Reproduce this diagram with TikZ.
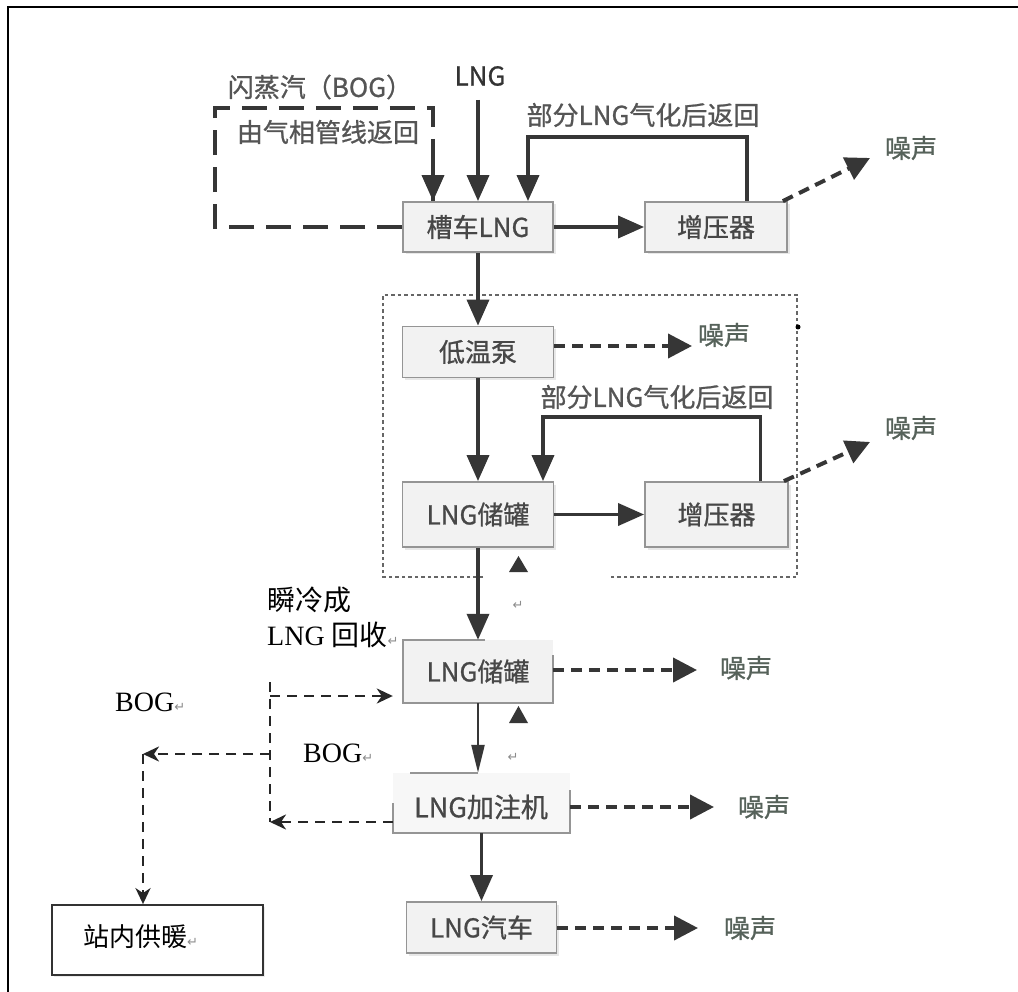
\documentclass[tikz,border=0pt]{standalone}
\usepackage{fontspec}
\setmainfont{Liberation Serif}
\newfontfamily\cjk{Noto Sans CJK SC}
\newfontfamily\cjkm{Noto Sans CJK SC}[FakeBold=0.9]
\newfontfamily\symf{DejaVu Sans}
\usetikzlibrary{arrows.meta,shadows}
\definecolor{ln}{HTML}{363636}
\definecolor{boxc}{HTML}{959595}
\definecolor{boxf}{HTML}{F2F2F2}
\definecolor{txt}{HTML}{474747}
\definecolor{lbl}{HTML}{555555}
\definecolor{noisec}{HTML}{56625A}
\definecolor{framec}{HTML}{666666}
\newcommand{\ret}{{\symf\color{black!45}\fontsize{13}{13}\selectfont ↵}}
\tikzset{
  box/.style={draw=boxc, line width=1.8pt, fill=boxf, inner sep=0pt,
    font=\cjkm\fontsize{26}{26}\selectfont, text=txt,
    drop shadow={shadow xshift=2.5pt, shadow yshift=-2.5pt, opacity=0.18}},
  openbox/.style={fill=boxf, inner sep=0pt, font=\cjkm\fontsize{26}{26}\selectfont, text=txt},
  boxline/.style={draw=boxc, line width=1.8pt},
  lab/.style={font=\cjkm\fontsize{26}{26}\selectfont, text=lbl, inner sep=0pt},
  noisetxt/.style={font=\cjkm\fontsize{26}{26}\selectfont, text=noisec, inner sep=0pt},
  sertxt/.style={font=\fontsize{28}{28}\selectfont, text=black, inner sep=0pt, anchor=west},
  main/.style={draw=ln, line width=3.6pt, -{Triangle[length=26pt,width=22pt]}},
  noise/.style={draw=ln, line width=4pt, dash pattern=on 11pt off 7pt, -{Triangle[length=24pt,width=24pt]}},
  bogtop/.style={draw=ln, line width=3.8pt, dash pattern=on 25pt off 12pt},
  bogthin/.style={draw=black!85, line width=2.6pt, dash pattern=on 10pt off 7pt},
  bogarrow/.style={bogthin, -{Stealth[length=16pt,width=15pt,inset=5pt]}},
  dotframe/.style={draw=framec, line width=2pt, dash pattern=on 3.5pt off 3pt}
}
\begin{document}
\begin{tikzpicture}[x=1pt,y=-1pt]
\useasboundingbox (0,0) rectangle (1018,992);
\fill[white] (0,0) rectangle (1018,992);
\draw[line width=2.5pt] (8,992) -- (8,7) -- (1018,7);

% dotted frame
\draw[dotframe] (483,577) -- (383,577) -- (383,295) -- (797,295) -- (797,577) -- (608,577);
\fill[black] (798,327) circle (2.5pt);

% boxes
\node[box, minimum width=150pt, minimum height=50pt] (tank) at (478,227) {槽车LNG};
\node[box, minimum width=142pt, minimum height=50pt] (boost1) at (716,227) {增压器};
\node[box, minimum width=151pt, minimum height=51pt] (pump) at (478,352) {低温泵};
\node[box, minimum width=151pt, minimum height=65pt] (store1) at (478,514.5) {LNG储罐};
\node[box, minimum width=143pt, minimum height=65pt] (boost2) at (716.5,514.5) {增压器};
\node[openbox, minimum width=150pt, minimum height=63pt] (store2) at (478,671.5) {LNG储罐};
\node[openbox, fill=boxf!60, minimum width=177pt, minimum height=60pt] (disp) at (481.5,803) {};
\node[font=\cjkm\fontsize{27}{27}\selectfont, text=txt, inner sep=0pt] (dispt) at (481,807) {LNG加注机};
\node[box, minimum width=150pt, minimum height=51pt] (car) at (481.5,927.5) {LNG汽车};
\node[draw=black!80, line width=1.8pt, fill=white, minimum width=211pt, minimum height=70pt, inner sep=0pt,
  drop shadow={shadow xshift=2pt, shadow yshift=-2pt, opacity=0.15}] (heat) at (157.5,940) {};
\node[font=\cjk\fontsize{26}{26}\selectfont, text=black, inner sep=0pt, anchor=west] (heatt) at (83,937) {站内供暖\ret};

% partial borders
\draw[boxline] ([xshift=82pt]store2.north west) -- (store2.north west) -- (store2.south west)
  -- (store2.south east) -- ([yshift=48pt]store2.south east);
\draw[boxline] ([yshift=30pt]disp.south west) -- (disp.south west) -- (disp.south east)
  -- ([yshift=43pt]disp.south east);

% top labels
\node[lab, text=black!80] (lngin) at (480,76) {LNG};
\node[lab] (bog1) at (320,87) {闪蒸汽（BOG）};
\node[lab] (bog2) at (328,132) {由气相管线返回};
\node[lab] (ret1) at (643,115) {部分LNG气化后返回};
\node[lab] (ret2) at (657,397) {部分LNG气化后返回};

% noise labels
\node[noisetxt] (n1) at (911,148) {噪声};
\node[noisetxt] (n2) at (724,335) {噪声};
\node[noisetxt] (n3) at (911,428) {噪声};
\node[noisetxt] (n4) at (746,668) {噪声};
\node[noisetxt] (n5) at (764,807) {噪声};
\node[noisetxt] (n6) at (750,928) {噪声};

\coordinate (n1tip) at (870,158);
\coordinate (n2tip) at (692,346);
\coordinate (n3tip) at (870,442);
\coordinate (n4tip) at (697,670);
\coordinate (n5tip) at (714,807);
\coordinate (n6tip) at (698,928);

% main flow
\coordinate (lngtop) at (478,100);
\draw[main] (lngtop) -- (tank.north);
\draw[main] (tank.east) -- (boost1.west);
\draw[main] ([xshift=31pt]boost1.north) -- ++(0,-64) -| ([xshift=50pt]tank.north);
\draw[main] (tank.south) -- (pump.north);
\draw[main] (pump.south) -- (store1.north);
\draw[main] (store1.east) -- (boost2.west);
\draw[main] ([xshift=44pt]boost2.north) -- ++(0,-64) -| ([xshift=65pt]store1.north);
\draw[main] (store1.south) -- (store2.north);
\draw[draw=ln, line width=2.4pt, -{Triangle[length=28pt,width=13pt]}] (store2.south) -- (store2.south |- disp.north);
\draw[boxline] (store2.south |- disp.north) -- ([xshift=17pt]disp.north west);
\draw[main] (disp.south) -- (car.north);

% BOG return on top
\draw[bogtop] (tank.west) -| (215,108) -| ([xshift=-45pt]tank.north);
\draw[main] ([xshift=-45pt]tank.north) ++(0,-40) -- ([xshift=-45pt]tank.north);

% noise arrows
\draw[noise] ([xshift=-5pt]boost1.north east) -- (n1tip);
\draw[noise] (pump.east |- n2tip) -- (n2tip);
\draw[noise] ([xshift=-5pt]boost2.north east) -- (n3tip);
\draw[noise] (store2.east |- n4tip) -- (n4tip);
\draw[noise] (disp.east |- n5tip) -- (n5tip);
\draw[noise] (car.east |- n6tip) -- (n6tip);

% small markers
\fill[ln] (509,572) -- (528,572) -- (518.5,556) -- cycle;
\fill[ln] (509,723) -- (528,723) -- (518.5,706) -- cycle;
\node[inner sep=0pt] (r1) at (518,605) {\ret};
\node[inner sep=0pt] (r2) at (513,757) {\ret};

% left BOG network
\coordinate (jtop) at (270,682);
\coordinate (j1) at (270,696);
\coordinate (j2) at (270,754);
\coordinate (j3) at (270,822);
\coordinate (hj) at (143,754);
\draw[bogthin] (jtop) -- (j3);
\draw[bogarrow] (j1) -- ([xshift=-10pt]store2.west |- j1);
\draw[bogarrow] (disp.west |- j3) -- (j3);
\draw[bogarrow] (j2) -- (hj);
\draw[bogarrow] (hj) -- (hj |- heat.north);

% serif labels
\node[sertxt] (t1) at (267,600) {{\cjk 瞬冷成}};
\node[sertxt] (t2) at (267,635) {LNG {\cjk 回收}\ret};
\node[sertxt] (t3) at (115,702) {BOG\ret};
\node[sertxt] (t4) at (303,753) {BOG\ret};
\end{tikzpicture}
\end{document}
